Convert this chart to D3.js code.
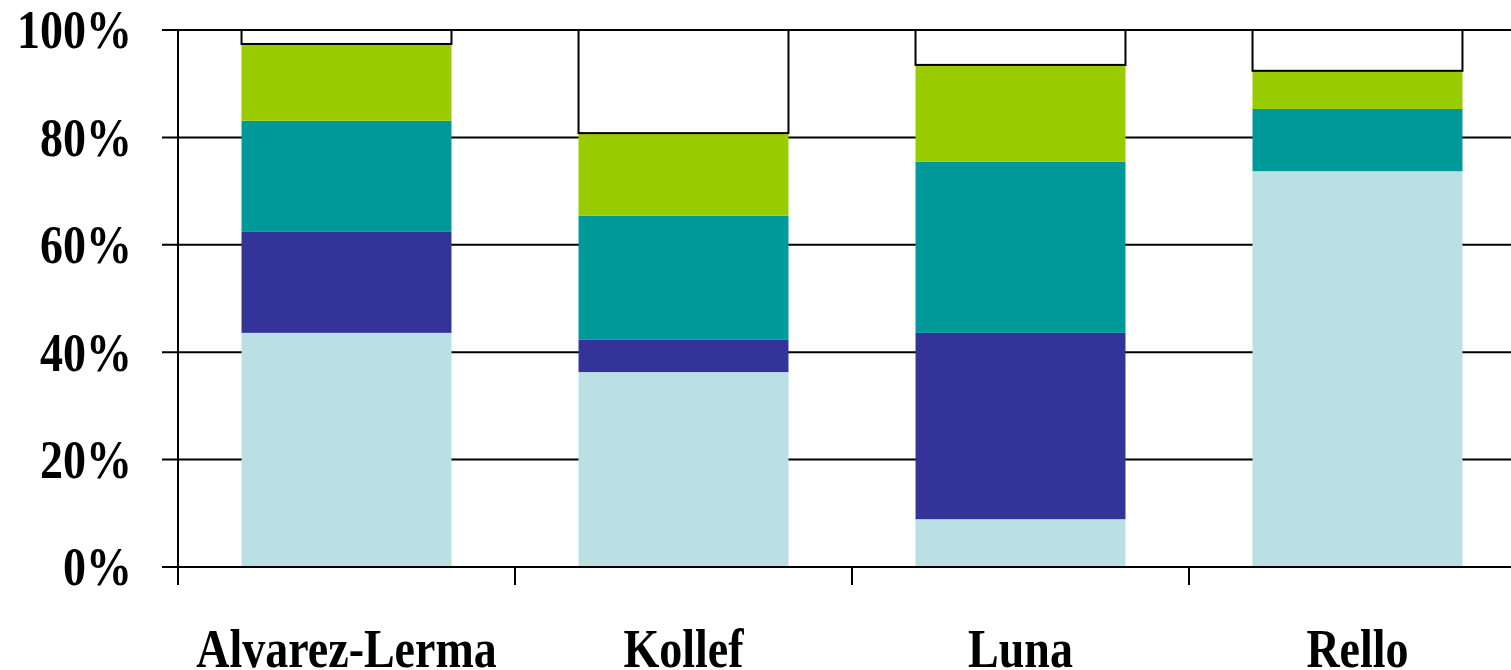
<!DOCTYPE html>
<html>
<head>
<meta charset="utf-8">
<script src="https://cdn.jsdelivr.net/npm/d3@7"></script>
<style>
  html, body { margin: 0; padding: 0; background: #fff; }
  svg { display: block; }
  text { font-family: "Liberation Serif", "Times New Roman", serif; font-weight: bold; fill: #000; }
</style>
</head>
<body>
<svg id="chart" width="1511" height="670"></svg>
<script>
// Studies shown along the category axis
const categories = ["Alvarez-Lerma", "Kollef", "Luna", "Rello"];

// Stacked shares (percent) per study, bottom to top
const seriesLightBlue = [43.6, 36.3, 8.9, 73.7];
const seriesDarkBlue  = [18.8, 6.0, 34.7, 0];
const seriesTeal      = [20.7, 23.1, 31.9, 11.6];
const seriesGreen     = [14.3, 15.4, 18.0, 7.1];
const seriesOther     = [2.6, 19.2, 6.5, 7.6];

const yTicks = [0, 20, 40, 60, 80, 100];
const yTickLabels = ["0%", "20%", "40%", "60%", "80%", "100%"];

const seriesKeys = ["lightBlue", "darkBlue", "teal", "green", "other"];
const seriesColors = {
  lightBlue: "#BBE0E3",
  darkBlue: "#333399",
  teal: "#009999",
  green: "#99CC00",
  other: "#FFFFFF"
};

const rows = categories.map((c, i) => ({
  category: c,
  lightBlue: seriesLightBlue[i],
  darkBlue: seriesDarkBlue[i],
  teal: seriesTeal[i],
  green: seriesGreen[i],
  other: seriesOther[i]
}));

const svg = d3.select("#chart");
const plotLeft = 178, plotStep = 337, plotTop = 30, plotBottom = 567;
const textScaleY = 1.18;

const x = d3.scaleBand()
  .domain(categories)
  .range([plotLeft, plotLeft + plotStep * categories.length])
  .paddingInner(0.377)
  .paddingOuter(0.1885);

const y = d3.scaleLinear().domain([0, 100]).range([plotBottom, plotTop]);

// Horizontal gridlines (with short tick stubs left of the axis)
svg.append("g")
  .selectAll("line")
  .data(yTicks)
  .join("line")
  .attr("x1", plotLeft - 16)
  .attr("x2", 1511)
  .attr("y1", d => y(d))
  .attr("y2", d => y(d))
  .attr("stroke", "#000")
  .attr("stroke-width", 2);

// Stacked bars
const stacked = d3.stack().keys(seriesKeys)(rows);
const layers = svg.append("g")
  .selectAll("g")
  .data(stacked)
  .join("g")
  .attr("fill", d => seriesColors[d.key]);

layers.selectAll("rect")
  .data(d => d.map(s => Object.assign(s, { key: d.key })))
  .join("rect")
  .attr("x", d => x(d.data.category))
  .attr("width", x.bandwidth())
  .attr("y", d => y(d[1]))
  .attr("height", d => y(d[0]) - y(d[1]))
  .attr("stroke", d => d.key === "other" ? "#000" : "none")
  .attr("stroke-width", 2);

// Y axis line
svg.append("line")
  .attr("x1", plotLeft).attr("x2", plotLeft)
  .attr("y1", plotTop).attr("y2", plotBottom + 18)
  .attr("stroke", "#000").attr("stroke-width", 2);

// X axis line
svg.append("line")
  .attr("x1", plotLeft - 16).attr("x2", 1511)
  .attr("y1", plotBottom).attr("y2", plotBottom)
  .attr("stroke", "#000").attr("stroke-width", 2);

// Category separators on the x axis
svg.append("g")
  .selectAll("line")
  .data(d3.range(categories.length))
  .join("line")
  .attr("x1", i => x.range()[0] + x.step() * i)
  .attr("x2", i => x.range()[0] + x.step() * i)
  .attr("y1", plotBottom)
  .attr("y2", plotBottom + 18)
  .attr("stroke", "#000").attr("stroke-width", 2);

// Y tick labels
svg.append("g")
  .selectAll("text")
  .data(yTicks)
  .join("text")
  .attr("transform", d => `translate(132,${y(d)}) scale(1,${textScaleY})`)
  .attr("text-anchor", "end")
  .attr("dy", "0.34em")
  .attr("font-size", 46)
  .text((d, i) => yTickLabels[i]);

// Category labels
svg.append("g")
  .selectAll("text")
  .data(categories)
  .join("text")
  .attr("transform", d => `translate(${x(d) + x.bandwidth() / 2},667) scale(1,${textScaleY})`)
  .attr("text-anchor", "middle")
  .attr("font-size", 46)
  .text(d => d);
</script>
</body>
</html>
